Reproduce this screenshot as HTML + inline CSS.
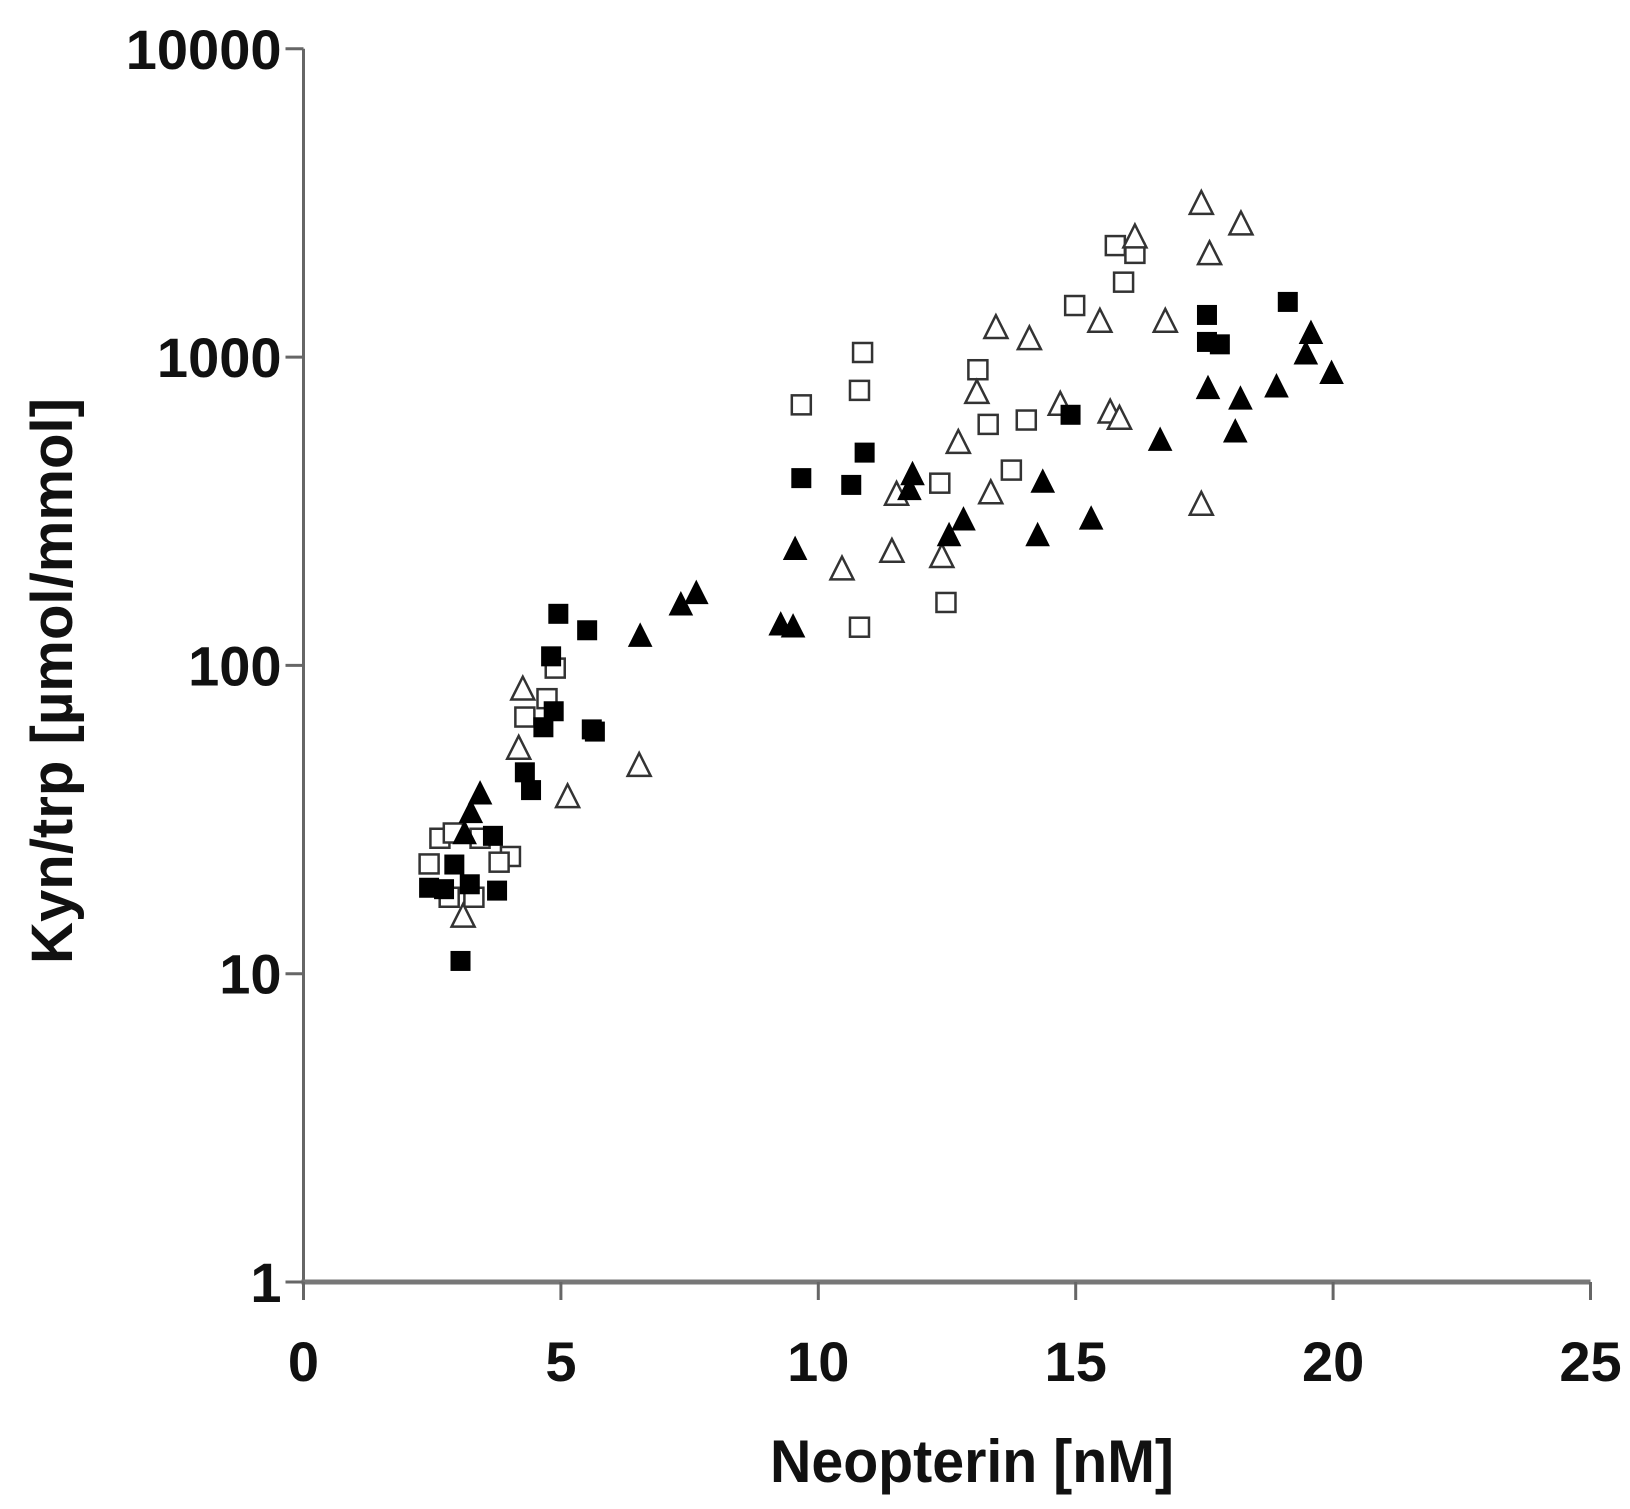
<!DOCTYPE html>
<html><head><meta charset="utf-8"><style>
html,body{margin:0;padding:0;background:#fff;}
svg{display:block;}
text{font-family:"Liberation Sans",Arial,sans-serif;font-weight:bold;fill:#111;}
</style></head>
<body>
<svg id="chart" width="1630" height="1509" viewBox="0 0 1630 1509" xmlns="http://www.w3.org/2000/svg">
<g id="axes"></g>
<g id="marks"></g>
<text x="972" y="1482" font-size="60" text-anchor="middle" textLength="404" lengthAdjust="spacingAndGlyphs">Neopterin [nM]</text>
<text x="0" y="0" font-size="58" text-anchor="middle" textLength="566" lengthAdjust="spacingAndGlyphs" transform="translate(72,681) rotate(-90)">Kyn/trp [µmol/mmol]</text>
</svg>
<script>
const xTicks=[0,5,10,15,20,25];
const yTicks=[1,10,100,1000,10000];
const yTickLabels=["1","10","100","1000","10000"];
const filledSquaresX=[3.05,2.44,2.93,3.23,3.76,3.68,2.73,4.3,4.42,4.66,4.86,4.81,4.95,5.51,5.66,5.6,9.67,10.64,10.9,14.9,17.55,17.55,17.8,19.12];
const filledSquaresY=[11,19,22.6,19.5,18.6,28,18.8,45,39.4,63,71,107,147,130,61,62,405,385,490,650,1370,1120,1100,1510];
const openSquaresX=[2.44,2.65,2.91,3.43,4.02,3.8,2.83,3.31,4.3,4.73,4.89,9.67,10.8,10.86,13.1,13.3,12.36,12.48,10.8,13.75,14.04,14.98,15.77,16.15,15.93];
const openSquaresY=[22.7,27.5,28.6,27.5,24,23,17.7,17.7,68,78,98,700,780,1035,910,605,390,160,133,430,625,1470,2300,2170,1750];
const openTrianglesX=[3.1,4.26,4.18,5.13,6.52,10.46,11.43,11.52,12.4,12.72,13.08,13.35,13.45,14.1,14.7,15.47,15.67,15.85,16.15,16.74,17.44,17.6,18.21,17.44];
const openTrianglesY=[15.4,84,54,37.6,47.5,206,235,360,226,530,770,364,1250,1150,705,1310,665,635,2460,1310,3160,2170,2710,334];
const filledTrianglesX=[3.43,3.25,3.13,6.54,7.33,7.63,9.27,9.51,9.55,11.83,11.77,12.54,12.82,14.26,14.36,15.3,16.64,17.57,18.2,18.1,18.9,19.57,19.47,19.97];
const filledTrianglesY=[38.5,33.5,28.6,125,158,172,136,134,239,418,374,265,298,265,395,300,540,795,735,575,805,1200,1030,890];

const X0=303.5,X1=1590.5,XMAX=25,YBOT=1282,DEC=308.3;
function sx(v){return X0+(X1-X0)*v/XMAX;}
function sy(v){return YBOT-Math.log10(v)*DEC;}
const NS="http://www.w3.org/2000/svg";
function mk(tag,attrs,parent){const e=document.createElementNS(NS,tag);for(const k in attrs)e.setAttribute(k,attrs[k]);parent.appendChild(e);return e;}
const axes=document.getElementById('axes');
let l=mk('line',{x1:X0,y1:sy(10000),x2:X0,y2:YBOT,stroke:'#666','stroke-width':3},axes);


l=mk('line',{x1:X0-2,y1:YBOT,x2:X1,y2:YBOT,stroke:'#777','stroke-width':5},axes);


yTicks.forEach((v,i)=>{
  const t=mk('line',{x1:X0-18,y1:sy(v),x2:X0,y2:sy(v),stroke:'#666','stroke-width':3},axes);
  
  
  const tx=mk('text',{x:X0-22,y:sy(v)+20,'font-size':56,'text-anchor':'end'},axes);
  tx.textContent=yTickLabels[i];
  
  
});
xTicks.forEach(v=>{
  const t=mk('line',{x1:sx(v),y1:YBOT,x2:sx(v),y2:YBOT+18,stroke:'#666','stroke-width':3},axes);
  
  
  const tx=mk('text',{x:sx(v),y:YBOT+99,'font-size':56,'text-anchor':'middle'},axes);
  tx.textContent=String(v);
  
  
});
const marks=document.getElementById('marks');
function square(x,y,filled,name){
  const s=19;
  const e=mk('rect',{x:sx(x)-s/2,y:sy(y)-s/2,width:s,height:s,fill:filled?'#000':'#fff',stroke:filled?'#000':'#333','stroke-width':filled?1:2.5},marks);
  
  
}
function tri(x,y,filled,name){
  const cx=sx(x),cy=sy(y),w=11.5,h=12;
  const e=mk('polygon',{points:`${cx},${cy-h} ${cx-w},${cy+h*0.9} ${cx+w},${cy+h*0.9}`,fill:filled?'#000':'#fff',stroke:filled?'#000':'#333','stroke-width':filled?1:2.5},marks);
  
  
}
openSquaresX.forEach((x,i)=>square(x,openSquaresY[i],false,'open-square-point'));
openTrianglesX.forEach((x,i)=>tri(x,openTrianglesY[i],false,'open-triangle-point'));
filledSquaresX.forEach((x,i)=>square(x,filledSquaresY[i],true,'filled-square-point'));
filledTrianglesX.forEach((x,i)=>tri(x,filledTrianglesY[i],true,'filled-triangle-point'));
</script>
</body></html>
